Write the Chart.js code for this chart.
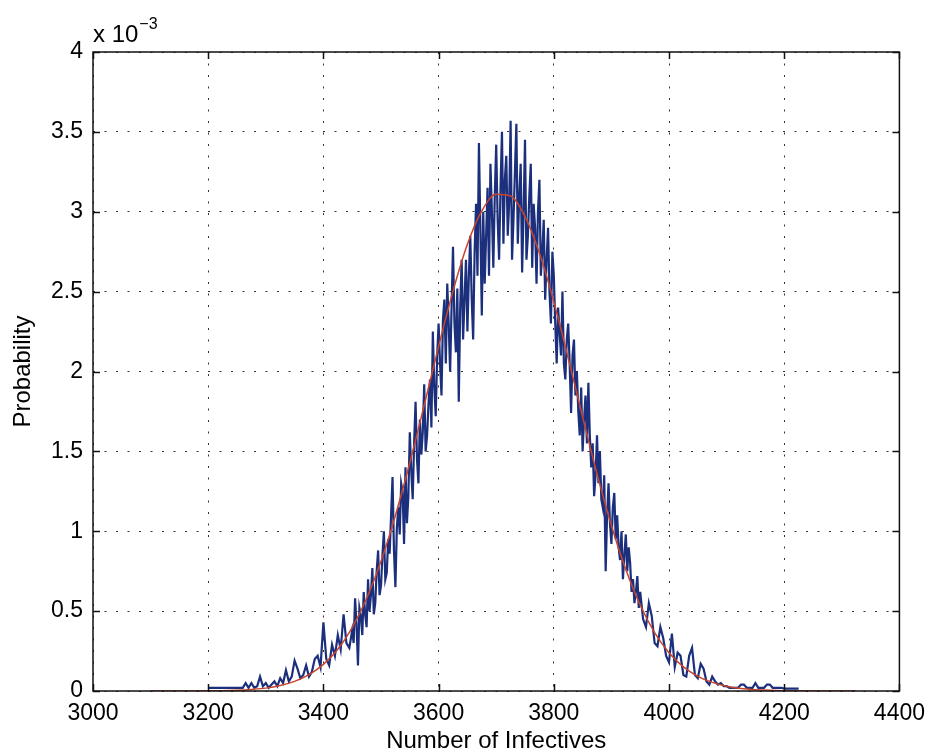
<!DOCTYPE html>
<html>
<head>
<meta charset="utf-8">
<script src="https://cdn.jsdelivr.net/npm/chart.js@4/dist/chart.umd.min.js"></script>
<style>
html,body{margin:0;padding:0;background:#ffffff;}
canvas{display:block;}
</style>
</head>
<body>
<canvas id="c" width="934" height="756"></canvas>
<script>
// ---- data (probabilities in units of 10^-3) ----
const xTickValues = [3000, 3200, 3400, 3600, 3800, 4000, 4200, 4400];
const yTickValues = [0, 0.5, 1, 1.5, 2, 2.5, 3, 3.5, 4];
const xTitle = 'Number of Infectives';
const yTitle = 'Probability';

const simX = [
3200,3205,3210,3215,3220,3225,3230,3235,3240,3245,3250,3255,3260,3265,3270,3275,3280,3285,3290,3295,
3300,3305,3310,3315,3320,3325,3330,3335,3340,3345,3350,3355,3360,3365,3370,3375,3380,3385,3390,3395,
3400,3405,3410,3415,3420,3425,3430,3435,3440,3445,
3450,3452.5,3455,3457.5,3460,3462.5,3465,3467.5,3470,3472.5,3475,3477.5,3480,3482.5,3485,3487.5,3490,3492.5,3495,3497.5,
3500,3502.5,3505,3507.5,3510,3512.5,3515,3517.5,3520,3522.5,3525,3527.5,3530,3532.5,3535,3537.5,3540,3542.5,3545,3547.5,
3550,3552.5,3555,3557.5,3560,3562.5,3565,3567.5,3570,3572.5,3575,3577.5,3580,3582.5,3585,3587.5,3590,3592.5,3595,3597.5,
3600,3602.5,3605,3607.5,3610,3612.5,3615,3617.5,3620,3622.5,3625,3627.5,3630,3632.5,3635,3637.5,3640,3642.5,3645,3647.5,
3650,3652.5,3655,3657.5,3660,3662.5,3665,3667.5,3670,3672.5,3675,3677.5,3680,3682.5,3685,3687.5,3690,3692.5,3695,3697.5,
3700,3702.5,3705,3707.5,3710,3712.5,3715,3717.5,3720,3722.5,3725,3727.5,3730,3732.5,3735,3737.5,3740,3742.5,3745,3747.5,
3750,3752.5,3755,3757.5,3760,3762.5,3765,3767.5,3770,3772.5,3775,3777.5,3780,3782.5,3785,3787.5,3790,3792.5,3795,3797.5,
3800,3802.5,3805,3807.5,3810,3812.5,3815,3817.5,3820,3822.5,3825,3827.5,3830,3832.5,3835,3837.5,3840,3842.5,3845,3847.5,
3850,3852.5,3855,3857.5,3860,3862.5,3865,3867.5,3870,3872.5,3875,3877.5,3880,3882.5,3885,3887.5,3890,3892.5,3895,3897.5,
3900,3902.5,3905,3907.5,3910,3912.5,3915,3917.5,3920,3922.5,3925,3927.5,3930,3932.5,3935,3937.5,3940,3942.5,3945,3947.5,
3950,
3955,3960,3965,3970,3975,3980,3985,3990,3995,
4000,4005,4010,4015,4020,4025,4030,4035,4040,4045,4050,4055,4060,4065,4070,4075,4080,4085,4090,4095,
4100,4105,4110,4115,4120,4125,4130,4135,4140,4145,4150,4155,4160,4165,4170,4175,4180,4185,4190,4195,
4200,4205,4210,4215,4220,4225
];
const simProb = [
0.02,0.02,0.02,0.02,0.02,0.02,0.02,0.02,0.02,0.02,0.02,0.02,0.02,0.05,0.02,0.05,0.02,0.03,0.09,0.03,
0.05,0.02,0.04,0.06,0.03,0.08,0.05,0.13,0.06,0.09,0.19,0.14,0.08,0.10,0.16,0.09,0.12,0.20,0.22,0.15,
0.43,0.20,0.16,0.29,0.22,0.35,0.26,0.48,0.30,0.27,
0.38,0.30,0.58,0.42,0.16,0.52,0.47,0.35,0.62,0.48,0.40,0.70,0.50,0.60,0.77,0.48,0.55,0.75,0.88,0.60,
0.66,0.85,1.00,0.70,0.74,0.95,0.86,1.10,1.34,0.88,0.65,1.02,1.15,0.98,1.30,1.25,0.92,1.40,1.05,1.22,
1.62,1.38,1.20,1.55,1.81,1.45,1.30,1.70,1.48,1.62,1.92,1.50,1.60,1.80,1.95,1.65,2.25,1.90,1.72,2.10,
2.30,2.05,1.85,2.32,2.45,2.05,2.55,2.30,2.00,2.40,2.78,2.30,2.12,2.52,1.81,2.40,2.70,2.20,2.45,2.70,
2.25,2.60,2.85,2.45,2.20,2.75,3.05,2.60,3.43,2.90,2.35,3.00,2.55,2.85,3.15,2.60,3.30,3.00,2.65,3.10,
3.42,2.95,2.70,3.15,3.50,2.80,3.20,3.35,2.85,3.05,3.57,2.70,2.95,3.25,3.55,2.80,3.10,3.30,2.62,3.00,
3.45,2.70,2.85,3.10,3.30,2.65,3.05,2.90,2.55,3.00,3.20,2.60,2.75,2.95,2.45,2.70,2.90,2.50,2.30,2.75,
2.60,2.30,2.05,2.40,2.25,2.10,2.50,2.05,1.95,2.20,2.30,2.05,1.74,2.10,2.20,1.85,2.00,1.75,1.60,1.90,
1.50,1.70,1.85,1.55,1.93,1.60,1.40,1.55,1.22,1.35,1.60,1.30,1.50,1.20,1.15,1.35,0.75,1.10,1.30,1.05,
0.92,1.15,1.24,0.95,1.10,0.90,0.82,1.00,0.70,0.85,0.98,0.75,0.90,0.80,0.62,0.70,0.55,0.62,0.72,0.52,
0.62,
0.45,0.40,0.55,0.47,0.30,0.28,0.40,0.33,0.22,
0.18,0.36,0.15,0.24,0.22,0.10,0.09,0.22,0.27,0.10,0.08,0.17,0.14,0.06,0.04,0.09,0.06,0.04,0.05,0.03,
0.03,0.02,0.02,0.02,0.02,0.04,0.04,0.02,0.02,0.02,0.05,0.02,0.02,0.02,0.04,0.04,0.02,0.02,0.02,0.02,
0.015,0.015,0.015,0.015,0.015,0.015
];

const fitX = [
3100,3125,3150,3175,3200,3225,3250,3275,3300,3325,
3350,3375,3400,3425,3450,3475,3500,3525,3550,3575,
3600,3625,3650,3675,3700,3725,3750,3775,3800,3825,
3850,3875,3900,3925,3950,3975,4000,4025,4050,4075,
4100,4125,4150,4175,4200,4225,4250,4275,4300,4325
];
const fitProb = [
0.00003,0.0001,0.0002,0.0005,0.001,0.002,0.005,0.010,0.018,0.034,
0.060,0.102,0.167,0.261,0.397,0.579,0.812,1.099,1.429,1.789,
2.157,2.503,2.796,3.005,3.110,3.099,2.971,2.742,2.437,2.084,
1.716,1.359,1.036,0.761,0.538,0.366,0.240,0.151,0.092,0.054,
0.030,0.016,0.0085,0.0042,0.002,0.0009,0.0004,0.0002,0.0001,0.00003
];

const FONT = "'Liberation Sans', Arial, Helvetica, sans-serif";

const matlabFrame = {
  id: 'matlabFrame',
  afterDraw(chart) {
    const ctx = chart.ctx;
    const a = chart.chartArea;
    const xs = chart.scales.x, ys = chart.scales.y;
    ctx.save();
    ctx.strokeStyle = '#111';
    ctx.lineWidth = 1.5;
    ctx.setLineDash([]);
    const tl = 7;
    ctx.beginPath();
    xTickValues.forEach(v => {
      const px = Math.round(xs.getPixelForValue(v)) + 0.5;
      ctx.moveTo(px, a.bottom); ctx.lineTo(px, a.bottom - tl);
      ctx.moveTo(px, a.top); ctx.lineTo(px, a.top + tl);
    });
    yTickValues.forEach(v => {
      const py = Math.round(ys.getPixelForValue(v)) + 0.5;
      ctx.moveTo(a.left, py); ctx.lineTo(a.left + tl, py);
      ctx.moveTo(a.right, py); ctx.lineTo(a.right - tl, py);
    });
    ctx.stroke();
    ctx.strokeRect(a.left, a.top, a.right - a.left, a.bottom - a.top);
    ctx.fillStyle = '#000';
    ctx.textBaseline = 'alphabetic';
    ctx.textAlign = 'left';
    ctx.font = '24px ' + FONT;
    const base = 'x 10';
    ctx.fillText(base, a.left, 42);
    const w = ctx.measureText(base).width;
    ctx.font = '16px ' + FONT;
    ctx.fillText('\u22123', a.left + w + 1, 29);
    ctx.restore();
  }
};

new Chart(document.getElementById('c'), {
  type: 'line',
  data: {
    datasets: [
      {
        label: 'fit',
        data: fitX.map((x, i) => ({x: x, y: fitProb[i]})),
        borderColor: '#c9442c',
        borderWidth: 1.5,
        pointRadius: 0,
        fill: false,
        cubicInterpolationMode: 'monotone',
        order: 0
      },
      {
        label: 'simulation',
        data: simX.map((x, i) => ({x: x, y: simProb[i]})),
        borderColor: '#1b2f7c',
        borderWidth: 2.2,
        borderJoinStyle: 'miter',
        pointRadius: 0,
        fill: false,
        order: 1
      }
    ]
  },
  options: {
    responsive: false,
    animation: false,
    layout: { padding: { top: 52, right: 31, bottom: 0, left: 0 } },
    plugins: { legend: { display: false }, tooltip: { enabled: false } },
    scales: {
      x: {
        type: 'linear',
        min: 3000, max: 4400,
        afterBuildTicks: s => { s.ticks = xTickValues.map(v => ({value: v})); },
        afterFit: s => { s.height = 65; },
        ticks: {
          autoSkip: false, maxRotation: 0, padding: 9,
          color: '#000',
          font: { family: FONT, size: 23 },
          callback: v => String(v)
        },
        grid: { color: '#333', lineWidth: 1, drawTicks: false },
        border: { display: false, dash: [2, 9.5] },
        title: {
          display: true, text: xTitle, color: '#000',
          font: { family: FONT, size: 24 },
          padding: { top: 0, bottom: 0 }
        }
      },
      y: {
        type: 'linear',
        min: 0, max: 4,
        afterBuildTicks: s => { s.ticks = yTickValues.map(v => ({value: v})); },
        afterFit: s => { s.width = 93; },
        ticks: {
          autoSkip: false, padding: 10,
          color: '#000',
          font: { family: FONT, size: 23 },
          callback: v => String(v)
        },
        grid: { color: '#333', lineWidth: 1, drawTicks: false },
        border: { display: false, dash: [2, 9.5] },
        title: {
          display: true, text: yTitle, color: '#000',
          font: { family: FONT, size: 24 },
          padding: { top: 9, bottom: 0 }
        }
      }
    }
  },
  plugins: [matlabFrame]
});
</script>
</body>
</html>
